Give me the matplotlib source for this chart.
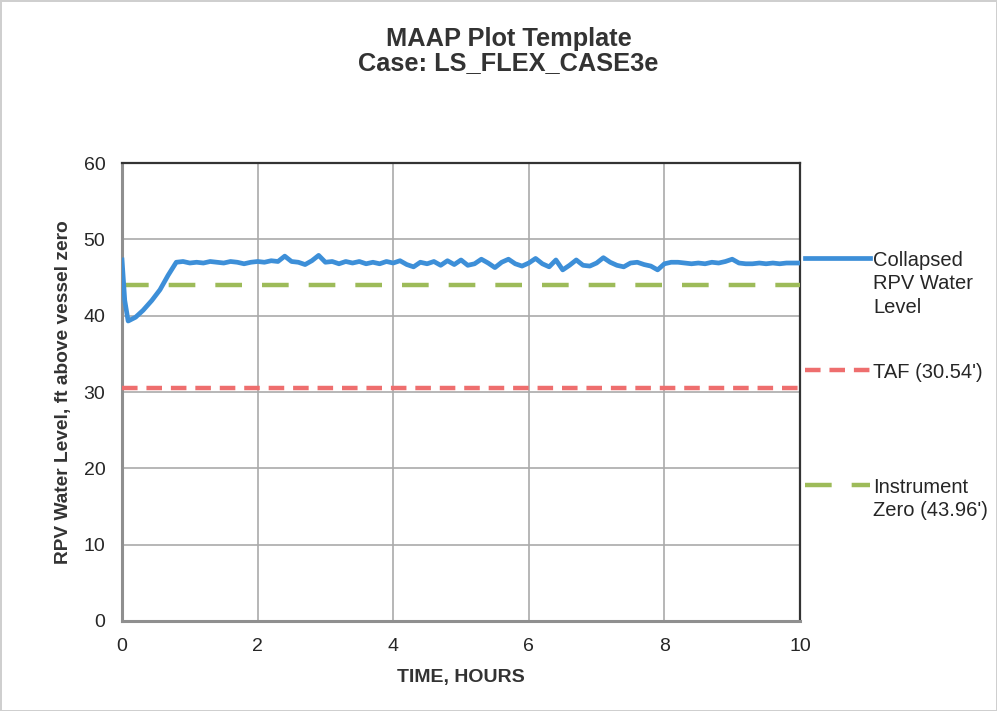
import numpy as np
import matplotlib
matplotlib.use("Agg")
import matplotlib.pyplot as plt

plt.rcParams['font.family'] = ['Liberation Sans', 'DejaVu Sans']

# collapsed RPV water level
time_start = [0.0, 0.04, 0.09, 0.2, 0.31, 0.44, 0.56, 0.68, 0.8, 0.9]
level_start = [47.3, 42.0, 39.3, 39.8, 40.7, 42.0, 43.4, 45.3, 47.0, 47.1]
time_rest = np.round(np.arange(1.0, 10.01, 0.1), 2)
level_rest = [
    46.9, 47.0, 46.9, 47.1, 47.0, 46.9, 47.1, 47.0, 46.8, 47.0,
    47.1, 47.0, 47.2, 47.1, 47.8, 47.1, 47.0, 46.7, 47.2, 47.9,
    47.0, 47.1, 46.8, 47.1, 46.9, 47.1, 46.8, 47.0, 46.8, 47.1,
    46.9, 47.2, 46.7, 46.4, 47.0, 46.8, 47.1, 46.6, 47.2, 46.7,
    47.3, 46.6, 46.8, 47.4, 46.9, 46.3, 47.0, 47.4, 46.8, 46.5,
    46.9, 47.5, 46.8, 46.4, 47.3, 46.0, 46.6, 47.3, 46.6, 46.5,
    46.9, 47.6, 47.0, 46.6, 46.4, 46.9, 47.0, 46.7, 46.5, 46.0,
    46.8, 47.0, 47.0, 46.9, 46.8, 46.9, 46.8, 47.0, 46.9, 47.1,
    47.4, 46.9, 46.8, 46.8, 46.9, 46.8, 46.9, 46.8, 46.9, 46.9, 46.9,
]
time_hours = np.concatenate([time_start, time_rest])
water_level = np.concatenate([level_start, level_rest])

taf_level = 30.54
instrument_zero = 43.96
time_range = [0, 10]

labels = ["Collapsed\nRPV Water\nLevel", "TAF (30.54')", "Instrument\nZero (43.96')"]

BLUE = '#3d8fd8'
RED = '#ee6e6e'
GREEN = '#9dbb59'
TEXT = '#262626'

fig = plt.figure(figsize=(9.97, 7.11), dpi=100)
fig.patch.set_edgecolor('#cfcfcf')
fig.patch.set_linewidth(2)
ax = fig.add_axes([0.1224, 0.1266, 0.68, 0.6441])

ax.plot(time_range, [instrument_zero] * 2, color=GREEN, lw=3.2,
        dashes=(6, 4.5), zorder=3)
ax.plot(time_range, [taf_level] * 2, color=RED, lw=3.2,
        dashes=(3.5, 2), zorder=3)
ax.plot(time_hours, water_level, color=BLUE, lw=3.4, zorder=4)

ax.set_xlim(0, 10)
ax.set_ylim(0, 60)
ax.set_xticks(np.arange(0, 11, 2))
ax.set_yticks(np.arange(0, 61, 10))
ax.tick_params(length=0, labelsize=14, colors=TEXT)
ax.tick_params(axis='x', pad=12)
ax.tick_params(axis='y', pad=12)
ax.grid(True, color='#aaaaaa', lw=1.2)
ax.set_axisbelow(True)
for side in ['left', 'bottom']:
    ax.spines[side].set_color('#8f8f8f')
    ax.spines[side].set_linewidth(2.2)
for side in ['top', 'right']:
    ax.spines[side].set_color('#333333')
    ax.spines[side].set_linewidth(1.6)

fig.text(0.51, 0.962, "MAAP Plot Template\nCase: LS_FLEX_CASE3e",
         fontsize=18.3, fontweight='bold', color='#333333',
         ha='center', va='top', linespacing=1.0)
ax.set_xlabel("TIME, HOURS", fontsize=14, fontweight='bold',
              color='#333333', labelpad=10)
ax.set_ylabel("RPV Water Level, ft above vessel zero", fontsize=13.8,
              fontweight='bold', color='#333333', labelpad=8)

# legend at the right, drawn by hand so the handle sits on the first line
handle_y = [0.793, 0.548, 0.297]
styles = [dict(color=BLUE, lw=3.4),
          dict(color=RED, lw=3.2, dashes=(3.5, 2)),
          dict(color=GREEN, lw=3.2, dashes=(6, 4.5))]
for y, label, style in zip(handle_y, labels, styles):
    ax.plot([1.007, 1.103], [y, y], transform=ax.transAxes,
            clip_on=False, **style)
    ax.text(1.108, y + 0.016, label, transform=ax.transAxes, fontsize=14.5,
            va='top', ha='left', color=TEXT, linespacing=1.3)

fig.savefig("out.png", dpi=100)
